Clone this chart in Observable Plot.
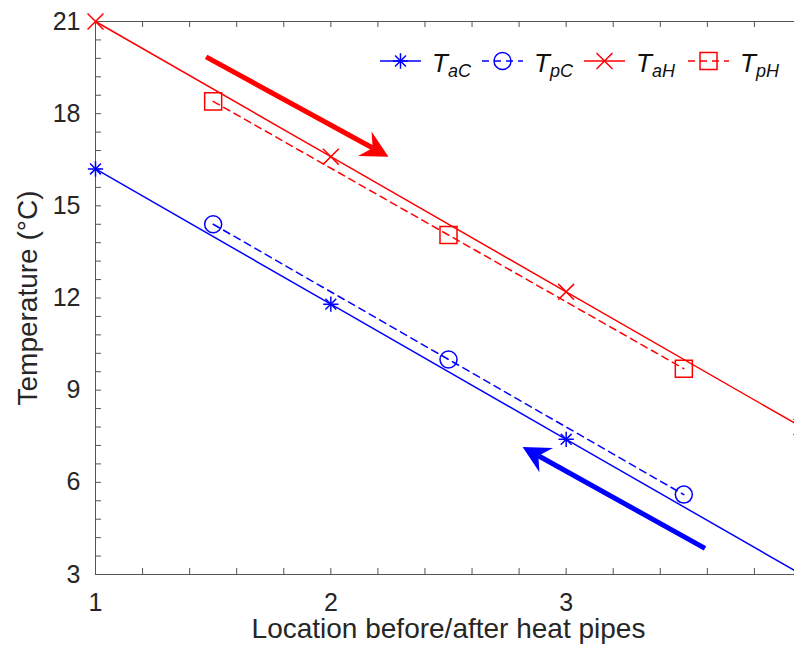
<!DOCTYPE html>
<html><head><meta charset="utf-8">
<script src="https://cdn.jsdelivr.net/npm/d3@7"></script>
<script src="https://cdn.jsdelivr.net/npm/@observablehq/plot@0.6"></script>
<style>
html,body{margin:0;padding:0;background:#fff;overflow:hidden;width:794px;height:654px;}
#chart{position:relative;width:810px;height:654px;}
#chart svg{max-width:none !important;}
</style></head><body><div id="chart"></div>
<script>
// ---- data ----
const locations = [1, 2, 3, 4];
const tAC = [16.2, 11.8, 7.4, 3.0];
const tAH = [21.0, 16.6, 12.2, 7.8];
const pipeLocations = [1.5, 2.5, 3.5];
const tPC = [14.4, 10.0, 5.6];
const tPH = [18.4, 14.05, 9.7];

const xTicks = [1, 2, 3, 4];
const yTicks = [3, 6, 9, 12, 15, 18, 21];
const xTickMarks = [1,1.2,1.4,1.6,1.8,2,2.2,2.4,2.6,2.8,3,3.2,3.4,3.6,3.8,4];
const yTickMarks = [3,3.6,4.2,4.8,5.4,6,6.6,7.2,7.8,8.4,9,9.6,10.2,10.8,11.4,12,12.6,13.2,13.8,14.4,15,15.6,16.2,16.8,17.4,18,18.6,19.2,19.8,20.4,21];

const xLabel = "Location before/after heat pipes";
const yLabel = "Temperature (°C)";

const legendMain = ["T", "T", "T", "T"];
const legendSub = ["aC", "pC", "aH", "pH"];
const legendColor = ["blue", "blue", "red", "red"];
const legendDashed = [false, true, false, true];
const legendSymbols = [["plus", "times"], ["circle"], ["times"], ["square"]];

// flow-direction arrows
const arrowX1 = [1.47, 3.59];
const arrowY1 = [19.85, 3.85];
const arrowX2 = [2.245, 2.815];
const arrowY2 = [16.6, 7.15];
const arrowColor = ["red", "blue"];

// ---- build tables ----
const seriesA = (vals) => locations.map((x, i) => ({x, y: vals[i]}));
const seriesP = (vals) => pipeLocations.map((x, i) => ({x, y: vals[i]}));
const aC = seriesA(tAC), aH = seriesA(tAH), pC = seriesP(tPC), pH = seriesP(tPH);
const arrows = arrowX1.map((x1, i) => ({x1, y1: arrowY1[i], x2: arrowX2[i], y2: arrowY2[i], c: arrowColor[i]}));

const headSymbol = {draw(ctx) { ctx.moveTo(0, 0); ctx.lineTo(-27, -14); ctx.lineTo(-18, 0); ctx.lineTo(-27, 14); ctx.closePath(); }};

const W = 810, H = 654, ML = 95, MR = 9, MT = 21, MB = 80;
const PW = W - ML - MR, PH = H - MT - MB;
const axisColor = "#555";
const textColor = "#262626";
const FONT = "Liberation Sans, Arial, sans-serif";
const FS = 25, LFS = 28;
const R_ASTER = 5, R_TIMES = 7.3, R_CIRC = 8.5, R_SQ = 9.6;
const dash = "7,5";

function build(angles) {
  return Plot.plot({
    width: W, height: H,
    marginLeft: ML, marginRight: MR, marginTop: MT, marginBottom: MB,
    style: {fontFamily: FONT, background: "#fff", overflow: "visible", maxWidth: "none"},
    x: {domain: [1, 4]},
    y: {domain: [3, 21]},
    marks: [
      // ticks (inward, all four sides)
      Plot.tickX(xTickMarks, {x: d => d, insetTop: PH - 6, stroke: axisColor}),
      Plot.tickX(xTickMarks, {x: d => d, insetBottom: PH - 6, stroke: axisColor}),
      Plot.tickY(yTickMarks, {y: d => d, insetRight: PW - 6, stroke: axisColor}),
      Plot.tickY(yTickMarks, {y: d => d, insetLeft: PW - 6, stroke: axisColor}),
      Plot.frame({stroke: axisColor}),
      Plot.axisX(xTicks, {anchor: "bottom", tickSize: 0, tickPadding: 19, fontSize: FS, label: null, fill: textColor, tickFormat: d => String(d)}),
      Plot.axisY(yTicks, {anchor: "left", tickSize: 0, tickPadding: 15, fontSize: FS, label: null, fill: textColor, tickFormat: d => String(d)}),
      Plot.text([xLabel], {frameAnchor: "bottom", textAnchor: "middle", dy: 63, text: d => d, fontSize: LFS, fill: textColor}),
      Plot.text([yLabel], {frameAnchor: "left", textAnchor: "middle", dx: -67, rotate: -90, text: d => d, fontSize: LFS, fill: textColor}),
      // series lines
      Plot.line(aH, {x: "x", y: "y", stroke: "red", strokeWidth: 1.5}),
      Plot.line(pH, {x: "x", y: "y", stroke: "red", strokeWidth: 1.5, strokeDasharray: dash}),
      Plot.line(aC, {x: "x", y: "y", stroke: "blue", strokeWidth: 1.5}),
      Plot.line(pC, {x: "x", y: "y", stroke: "blue", strokeWidth: 1.5, strokeDasharray: dash}),
      // markers
      Plot.dot(aH, {x: "x", y: "y", symbol: "times", r: R_TIMES, stroke: "red", strokeWidth: 1.5}),
      Plot.dot(pH, {x: "x", y: "y", symbol: "square", r: R_SQ, stroke: "red", strokeWidth: 1.5}),
      Plot.dot(aC, {x: "x", y: "y", symbol: "plus", r: R_ASTER, stroke: "blue", strokeWidth: 1.5}),
      Plot.dot(aC, {x: "x", y: "y", symbol: "times", r: R_ASTER, stroke: "blue", strokeWidth: 1.5}),
      Plot.dot(pC, {x: "x", y: "y", symbol: "circle", r: R_CIRC, stroke: "blue", strokeWidth: 1.5}),
      // arrows
      Plot.arrow(arrows, {x1: "x1", y1: "y1", x2: "x2", y2: "y2", stroke: "c", headLength: 0, insetEnd: 18, strokeWidth: 5, strokeLinecap: "butt"}),
      Plot.dot(arrows, {x: "x2", y: "y2", symbol: headSymbol, r: 5, fill: "c", stroke: "none", rotate: (d, i) => angles[i]})
    ]
  });
}

// first pass to read scales, then compute head angles in screen space
const probe = build([0, 0]);
const sx = probe.scale("x"), sy = probe.scale("y");
const angles = arrows.map(a => {
  const dx = sx.apply(a.x2) - sx.apply(a.x1), dy = sy.apply(a.y2) - sy.apply(a.y1);
  return Math.atan2(dy, dx) * 180 / Math.PI;
});
const chart = build(angles);
document.getElementById("chart").appendChild(chart);

// legend (inside the axes, top right)
const svg = d3.select(chart);
const lg = svg.append("g").attr("font-family", FONT).attr("text-anchor", "start");
const legendX = [380, 482, 584, 688];
const symR = {plus: R_ASTER, circle: R_CIRC, square: R_SQ};
legendMain.forEach((m, i) => {
  const x0 = legendX[i], ly = 61;
  const g = lg.append("g");
  g.append("line").attr("x1", x0).attr("x2", x0 + 41).attr("y1", ly).attr("y2", ly)
    .attr("stroke", legendColor[i]).attr("stroke-width", 1.5)
    .attr("stroke-dasharray", legendDashed[i] ? dash : null);
  legendSymbols[i].forEach(s => {
    const r = s === "times" ? (i === 0 ? R_ASTER : R_TIMES) : symR[s];
    const type = {plus: d3.symbolPlus, times: d3.symbolTimes, circle: d3.symbolCircle, square: d3.symbolSquare}[s];
    g.append("path").attr("d", d3.symbol(type, r * r * Math.PI)())
      .attr("transform", `translate(${x0 + 20.5},${ly})`)
      .attr("fill", "none").attr("stroke", legendColor[i]).attr("stroke-width", 1.5);
  });
  const t = g.append("text").attr("x", x0 + 52).attr("y", 72).attr("fill", "#111")
    .attr("font-style", "italic").attr("font-size", 26).attr("text-anchor", "start");
  t.append("tspan").text(m);
  t.append("tspan").attr("font-size", 18).attr("dy", 5).text(legendSub[i]);
});
</script></body></html>
